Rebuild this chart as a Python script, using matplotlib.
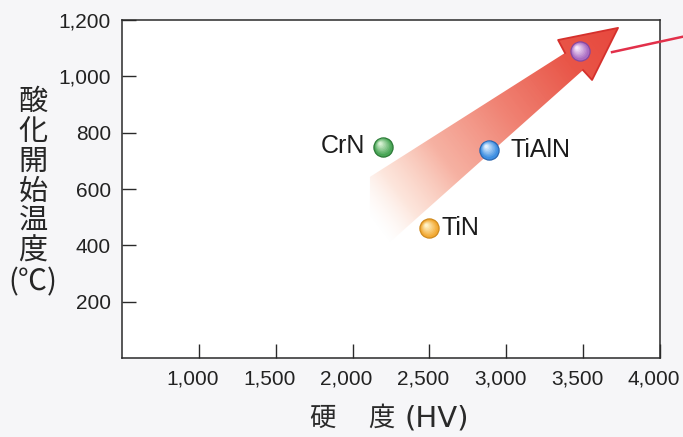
import numpy as np
import matplotlib
matplotlib.use('Agg')
import matplotlib.pyplot as plt
from matplotlib.patches import Polygon
from matplotlib.transforms import offset_copy, ScaledTranslation
from matplotlib.colors import to_rgb

# ---- data ----
coatings = ['CrN', 'TiAlN', 'TiN', '']
hardness = [2200, 2890, 2500, 3480]          # HV
oxidation = [750, 740, 460, 1090]            # deg C
sphere_base = ['#4aa657', '#3f8fe2', '#f2a934', '#a96bc2']
sphere_edge = ['#2c7a37', '#2b66b0', '#cf8a1e', '#85479e']
sphere_light = ['#d8f2d4', '#e2f1ff', '#fff3c8', '#f8e8fb']
label_offsets = [(-13, 0.5), (15, 0), (8.5, 0), (0, 0)]
label_ha = ['right', 'left', 'left', 'left']

xticks = [1000, 1500, 2000, 2500, 3000, 3500, 4000]
yticks = [200, 400, 600, 800, 1000, 1200]

# arrow outline (data coords): tail top, shaft top end, barb top, tip, barb bottom, shaft bottom end, tail bottom
arrow_x = [2113, 3382, 3337, 3727, 3558, 3499, 2113]
arrow_y = [643, 1083, 1129, 1172, 987, 1022, 348]

fig = plt.figure(figsize=(6.83, 4.37), dpi=100, facecolor='#f6f6f8')
ax = fig.add_axes([122/683, (437-358)/437, 538/683, 338/437])
ax.set_facecolor('white')
ax.set_xlim(500, 4000)
ax.set_ylim(0, 1200)

for s in ax.spines.values():
    s.set_color('#2a2a2a')
    s.set_linewidth(1.1)

ax.set_xticks(xticks)
ax.set_xticklabels([f'{v:,}' for v in xticks])
ax.set_yticks(yticks)
ax.set_yticklabels([f'{v:,}' for v in yticks])
ax.tick_params(direction='in', length=10, width=1.0, color='#2a2a2a',
               labelsize=15, labelcolor='#222222', pad=8)
shift = ScaledTranslation(-6/100, 0, fig.dpi_scale_trans)
for lab in ax.get_xticklabels():
    lab.set_family(['Liberation Sans', 'DejaVu Sans'])
    lab.set_transform(lab.get_transform() + shift)
for lab in ax.get_yticklabels():
    lab.set_family(['Liberation Sans', 'DejaVu Sans'])

# ---- gradient arrow ----
verts = np.column_stack([arrow_x, arrow_y])
poly = Polygon(verts, closed=True, facecolor='none', edgecolor='none', transform=ax.transData)
ax.add_patch(poly)

x0, x1, y0, y1 = 2000, 3800, 300, 1200
nx, ny = 500, 300
gx, gy = np.meshgrid(np.linspace(x0, x1, nx), np.linspace(y0, y1, ny))
pts = ax.transData.transform(np.column_stack([gx.ravel(), gy.ravel()]))
tail = ax.transData.transform((arrow_x[0], (arrow_y[0] + arrow_y[-1]) / 2))
tip = ax.transData.transform((arrow_x[3], arrow_y[3]))
d = tip - tail
t = ((pts - tail) @ d) / (d @ d)
t = np.clip(t, 0, 1).reshape(ny, nx)
stops = [0.0, 0.12, 0.3, 0.55, 0.8, 1.0]
A = [0.0, 0.38, 0.75, 0.93, 1.0, 1.0]
R = [250, 249, 244, 239, 233, 231]
G = [226, 188, 152, 120, 86, 72]
B = [212, 163, 132, 104, 72, 62]
img = np.zeros((ny, nx, 4))
img[..., 0] = np.interp(t, stops, R) / 255
img[..., 1] = np.interp(t, stops, G) / 255
img[..., 2] = np.interp(t, stops, B) / 255
img[..., 3] = np.interp(t, stops, A)
im = ax.imshow(img, extent=[x0, x1, y0, y1], origin='lower', aspect='auto',
               interpolation='bilinear', zorder=2)
im.set_clip_path(poly)
ax.set_xlim(500, 4000)
ax.set_ylim(0, 1200)

# head outline
ax.plot(arrow_x[1:6], arrow_y[1:6], color='#d5302c', lw=1.3, zorder=3,
        solid_joinstyle='round')

# callout line
ax.plot([3688, 4160], [1086, 1142], color='#e2304a', lw=1.8, clip_on=False, zorder=3)

# ---- spheres ----
D = 13.8  # points
n = 7
for i in range(len(hardness)):
    x, y = hardness[i], oxidation[i]
    ax.scatter([x], [y], s=D**2, color=sphere_base[i], edgecolors=sphere_edge[i],
               linewidths=0.9, zorder=5)
    cb = np.array(to_rgb(sphere_base[i]))
    cl = np.array(to_rgb(sphere_light[i]))
    for k in range(1, n + 1):
        f = k / n
        dd = D * 0.92 * (1 - 0.82 * f)
        col = cb * (1 - f) + cl * f
        tr = offset_copy(ax.transData, fig=fig, x=-0.16 * D * f, y=0.16 * D * f, units='points')
        ax.scatter([x], [y], s=dd**2, color=col, edgecolors='none', zorder=5 + k * 0.01,
                   transform=tr)
    if coatings[i]:
        ax.annotate(coatings[i], (x, y), xytext=label_offsets[i], textcoords='offset points',
                    ha=label_ha[i], va='center', fontsize=18, color='#1c1c1c',
                    family=['Liberation Sans', 'DejaVu Sans'], zorder=6)

# ---- axis titles ----
fig.text(33/683, 1 - 192/437, '酸\n化\n開\n始\n温\n度\n(℃)', ha='center', va='center',
         fontsize=21, linespacing=1.0, color='#262626',
         family=['Noto Sans CJK JP', 'DejaVu Sans'])
cjk = ['Noto Sans CJK JP', 'DejaVu Sans']
fig.text(322/683, 1 - 418/437, '硬', ha='center', va='center', fontsize=19,
         color='#2a2a2a', family=cjk)
fig.text(381/683, 1 - 418/437, '度', ha='center', va='center', fontsize=19,
         color='#2a2a2a', family=cjk)
fig.text(437/683, 1 - 418/437, '(HV)', ha='center', va='center', fontsize=21,
         color='#2a2a2a', family=['DejaVu Sans'])

fig.savefig('out.png', dpi=100, facecolor=fig.get_facecolor())
